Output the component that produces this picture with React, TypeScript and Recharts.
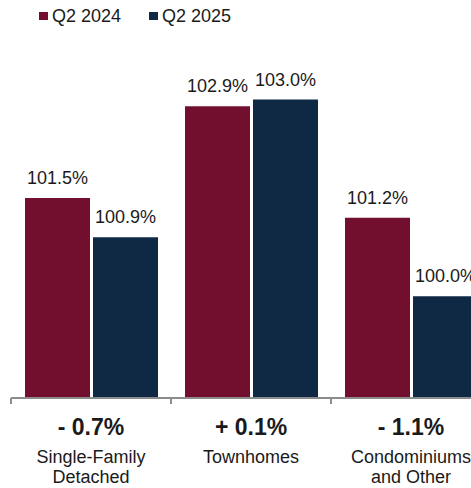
import React from "react";
import { BarChart, Bar, XAxis, YAxis, Legend, LabelList } from "recharts";

const CATEGORIES = ["Single-Family Detached", "Townhomes", "Condominiums and Other"];
const CATEGORY_LINES = [["Single-Family", "Detached"], ["Townhomes"], ["Condominiums", "and Other"]];
const CHANGES = ["- 0.7%", "+ 0.1%", "- 1.1%"];
const Q2_2024 = [101.5, 102.9, 101.2];
const Q2_2025 = [100.9, 103.0, 100.0];

const RED = "#730f2e";
const NAVY = "#0f2945";
const AXIS = "#8c8c8c";
const TEXT = "#1a1a1a";
const FONT = "'Liberation Sans', Arial, Helvetica, sans-serif";

const data = CATEGORIES.map((c, i) => ({
  category: c,
  q2024: Q2_2024[i],
  q2025: Q2_2025[i],
}));

const CategoryTick = (props: any) => {
  const { x, y, payload } = props;
  const i = payload.index;
  return (
    <g>
      <line x1={x - 80} x2={x - 80} y1={y} y2={y + 6} stroke={AXIS} strokeWidth={2} />
      <text x={x} y={y + 37} textAnchor="middle" fontWeight="bold" fontSize={23} fill={TEXT} fontFamily={FONT}>
        {CHANGES[i]}
      </text>
      {CATEGORY_LINES[i].map((line, j) => (
        <text key={j} x={x} y={y + 65 + j * 20} textAnchor="middle" fontSize={18} fill={TEXT} fontFamily={FONT}>
          {line}
        </text>
      ))}
    </g>
  );
};

const LegendContent = () => (
  <div style={{ display: "flex", alignItems: "center", fontSize: 18, lineHeight: "20px", color: TEXT, fontFamily: FONT }}>
    <span style={{ width: 9, height: 8, background: RED, marginRight: 4, display: "inline-block" }} />
    <span>Q2 2024</span>
    <span style={{ width: 9, height: 8, background: NAVY, marginLeft: 28, marginRight: 4, display: "inline-block" }} />
    <span>Q2 2025</span>
  </div>
);

const fmt = (v: any) => `${Number(v).toFixed(1)}%`;

export default function App() {
  return (
    <div style={{ position: "fixed", left: 0, top: 0, width: 471, height: 488, overflow: "hidden", background: "#fff" }}>
      <BarChart
        width={500}
        height={488}
        data={data}
        margin={{ top: 34, left: 11, right: 9, bottom: 0 }}
        barCategoryGap={14}
        barGap={3}
      >
        <YAxis hide domain={[98.45, 104]} />
        <XAxis
          dataKey="category"
          height={90}
          interval={0}
          tickLine={false}
          tickSize={0}
          tickMargin={0}
          axisLine={{ stroke: AXIS, strokeWidth: 2 }}
          tick={<CategoryTick />}
        />
        <Legend
          verticalAlign="middle"
          align="center"
          layout="horizontal"
          wrapperStyle={{ top: 6, left: 39, width: "auto", height: "auto" }}
          content={<LegendContent />}
        />
        <Bar dataKey="q2024" fill={RED} isAnimationActive={false}>
          <LabelList dataKey="q2024" position="top" offset={14} formatter={fmt} fontSize={18} fill={TEXT} fontFamily={FONT} />
        </Bar>
        <Bar dataKey="q2025" fill={NAVY} isAnimationActive={false}>
          <LabelList dataKey="q2025" position="top" offset={14} formatter={fmt} fontSize={18} fill={TEXT} fontFamily={FONT} />
        </Bar>
      </BarChart>
    </div>
  );
}
